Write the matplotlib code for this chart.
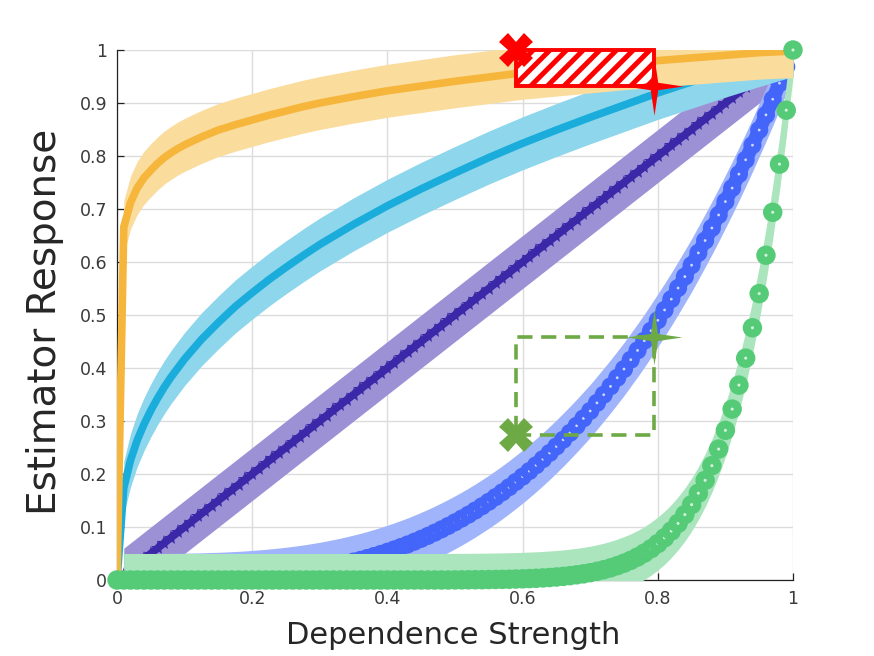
import matplotlib
matplotlib.use("Agg")
import matplotlib.pyplot as plt
import numpy as np
from matplotlib.path import Path
from matplotlib.patches import Rectangle

plt.rcParams['font.family'] = ['DejaVu Sans']
plt.rcParams['hatch.linewidth'] = 3.6
plt.rcParams['hatch.color'] = '#ff0000'

# ---------------- data ----------------
strength = [0.00, 0.01, 0.02, 0.03, 0.04, 0.05, 0.06, 0.07, 0.08, 0.09,
            0.10, 0.11, 0.12, 0.13, 0.14, 0.15, 0.16, 0.17, 0.18, 0.19,
            0.20, 0.21, 0.22, 0.23, 0.24, 0.25, 0.26, 0.27, 0.28, 0.29,
            0.30, 0.31, 0.32, 0.33, 0.34, 0.35, 0.36, 0.37, 0.38, 0.39,
            0.40, 0.41, 0.42, 0.43, 0.44, 0.45, 0.46, 0.47, 0.48, 0.49,
            0.50, 0.51, 0.52, 0.53, 0.54, 0.55, 0.56, 0.57, 0.58, 0.59,
            0.60, 0.61, 0.62, 0.63, 0.64, 0.65, 0.66, 0.67, 0.68, 0.69,
            0.70, 0.71, 0.72, 0.73, 0.74, 0.75, 0.76, 0.77, 0.78, 0.79,
            0.80, 0.81, 0.82, 0.83, 0.84, 0.85, 0.86, 0.87, 0.88, 0.89,
            0.90, 0.91, 0.92, 0.93, 0.94, 0.95, 0.96, 0.97, 0.98, 0.99,
            1.00]

# purple (linear estimator)
linear_resp = [0.00, 0.01, 0.02, 0.03, 0.04, 0.05, 0.06, 0.07, 0.08, 0.09,
               0.10, 0.11, 0.12, 0.13, 0.14, 0.15, 0.16, 0.17, 0.18, 0.19,
               0.20, 0.21, 0.22, 0.23, 0.24, 0.25, 0.26, 0.27, 0.28, 0.29,
               0.30, 0.31, 0.32, 0.33, 0.34, 0.35, 0.36, 0.37, 0.38, 0.39,
               0.40, 0.41, 0.42, 0.43, 0.44, 0.45, 0.46, 0.47, 0.48, 0.49,
               0.50, 0.51, 0.52, 0.53, 0.54, 0.55, 0.56, 0.57, 0.58, 0.59,
               0.60, 0.61, 0.62, 0.63, 0.64, 0.65, 0.66, 0.67, 0.68, 0.69,
               0.70, 0.71, 0.72, 0.73, 0.74, 0.75, 0.76, 0.77, 0.78, 0.79,
               0.80, 0.81, 0.82, 0.83, 0.84, 0.85, 0.86, 0.87, 0.88, 0.89,
               0.90, 0.91, 0.92, 0.93, 0.94, 0.95, 0.96, 0.97, 0.98, 0.99,
               1.00]

# blue (convex estimator)
convex_resp = [0.0, 0.0, 0.0, 0.0, 0.0, 0.0001, 0.0001, 0.0002, 0.0003, 0.0005,
               0.0006, 0.0009, 0.0011, 0.0015, 0.0019, 0.0023, 0.0028, 0.0035, 0.0041, 0.0049,
               0.0058, 0.0068, 0.0079, 0.0091, 0.0104, 0.0118, 0.0134, 0.0151, 0.0170, 0.0190,
               0.0212, 0.0236, 0.0261, 0.0288, 0.0317, 0.0348, 0.0380, 0.0415, 0.0452, 0.0491,
               0.0533, 0.0577, 0.0623, 0.0671, 0.0723, 0.0777, 0.0833, 0.0893, 0.0955, 0.1020,
               0.1088, 0.1159, 0.1233, 0.1311, 0.1392, 0.1476, 0.1564, 0.1655, 0.1750, 0.1850,
               0.1950, 0.2056, 0.2166, 0.2280, 0.2397, 0.2520, 0.2646, 0.2776, 0.2911, 0.3050,
               0.3190, 0.3342, 0.3496, 0.3653, 0.3816, 0.3980, 0.4156, 0.4332, 0.4515, 0.4704,
               0.4900, 0.5095, 0.5299, 0.5509, 0.5724, 0.5940, 0.6172, 0.6405, 0.6642, 0.6887,
               0.7140, 0.7395, 0.7658, 0.7928, 0.8204, 0.8490, 0.8776, 0.9071, 0.9374, 0.9683,
               1.0]

# green (very steep estimator)
steep_resp = [0.0, 0.0, 0.0, 0.0, 0.0, 0.0, 0.0, 0.0, 0.0, 0.0,
              0.0, 0.0, 0.0, 0.0, 0.0, 0.0, 0.0, 0.0, 0.0, 0.0,
              0.0, 0.0, 0.0, 0.0, 0.0, 0.0, 0.0, 0.0, 0.0, 0.0,
              0.0, 0.0, 0.0, 0.0, 0.0, 0.0, 0.0, 0.0, 0.0, 0.0,
              0.0, 0.0, 0.0, 0.0, 0.0, 0.0, 0.0, 0.0, 0.0, 0.0,
              0.0002, 0.0003, 0.0004, 0.0005, 0.0006, 0.0008, 0.0010, 0.0012, 0.0014, 0.0018,
              0.0022, 0.0027, 0.0032, 0.0039, 0.0047, 0.0057, 0.0068, 0.0082, 0.0098, 0.0116,
              0.0138, 0.0164, 0.0194, 0.0229, 0.0270, 0.0317, 0.0371, 0.0434, 0.0507, 0.0591,
              0.0687, 0.0797, 0.0924, 0.1069, 0.1234, 0.1422, 0.1637, 0.1880, 0.2157, 0.2470,
              0.2824, 0.3225, 0.3677, 0.4186, 0.4759, 0.5404, 0.6127, 0.6938, 0.7847, 0.8864,
              1.0]

strength_coarse = [0.00, 0.01, 0.02, 0.03, 0.04, 0.05, 0.06, 0.07, 0.08, 0.09, 0.10,
                   0.125, 0.15, 0.175, 0.20, 0.225, 0.25, 0.275, 0.30, 0.35, 0.40,
                   0.45, 0.50, 0.55, 0.60, 0.65, 0.70, 0.75, 0.80, 0.85, 0.90,
                   0.95, 1.00]
# light blue (concave estimator)
concave_resp = [0.0, 0.174, 0.226, 0.264, 0.294, 0.320, 0.343, 0.364, 0.383, 0.400, 0.417,
                0.454, 0.486, 0.516, 0.542, 0.567, 0.590, 0.612, 0.633, 0.671, 0.706,
                0.738, 0.768, 0.797, 0.824, 0.849, 0.873, 0.896, 0.919, 0.940, 0.961,
                0.981, 1.0]
# orange (saturating estimator)
saturating_resp = [0.0, 0.666, 0.712, 0.740, 0.759, 0.773, 0.786, 0.797, 0.806, 0.814, 0.821,
                   0.836, 0.849, 0.859, 0.868, 0.877, 0.885, 0.893, 0.900, 0.912, 0.923,
                   0.932, 0.941, 0.949, 0.957, 0.963, 0.969, 0.975, 0.980, 0.985, 0.990,
                   0.995, 0.998]

band_halfwidth = 0.05

# annotation anchor points
red_cross = (0.59, 1.0)
red_star = (0.795, 0.932)
green_cross = (0.59, 0.273)
green_star = (0.795, 0.458)

xticks = [0, 0.2, 0.4, 0.6, 0.8, 1]
xtick_labels = ['0', '0.2', '0.4', '0.6', '0.8', '1']
yticks = [0, 0.1, 0.2, 0.3, 0.4, 0.5, 0.6, 0.7, 0.8, 0.9, 1]
ytick_labels = ['0', '0.1', '0.2', '0.3', '0.4', '0.5', '0.6', '0.7', '0.8', '0.9', '1']

# ---------------- colours ----------------
C_ORANGE, C_ORANGE_B = '#F6B63C', '#FADC9D'
C_LBLUE, C_LBLUE_B = '#1AADDB', '#8DD6EC'
C_PURPLE, C_PURPLE_B = '#3B28A8', '#9D91D6'
C_BLUE, C_BLUE_B = '#4365F9', '#A0B4FB'
C_GREEN, C_GREEN_B = '#55CB78', '#AAE5BD'
C_RED = '#FF0000'
C_OLIVE = '#6DAA45'

# ---------------- figure ----------------
fig = plt.figure(figsize=(8.74, 6.56), dpi=100)
ax = fig.add_axes([117 / 874, 1 - 580 / 656, 676 / 874, 530 / 656])
ax.set_xlim(0, 1)
ax.set_ylim(0, 1)


def band(x, y, color, z):
    x = np.asarray(x)[1:]
    y = np.asarray(y)[1:]
    ax.fill_between(x, y - band_halfwidth, y + band_halfwidth, color=color,
                    linewidth=0, zorder=z)


def dotted_circles(x, y, color, dot_color, ms, dot_ms, z):
    # circle then centre dot for each point, in order, so that later circles
    # cover earlier dots where the points are packed closely
    x = np.asarray(x)
    y = np.asarray(y)
    xs = np.repeat(x, 2)
    ys = np.repeat(y, 2)
    sizes = np.tile([ms ** 2, dot_ms ** 2], len(x))
    cols = [color, dot_color] * len(x)
    ax.scatter(xs, ys, s=sizes, c=cols, marker='o', linewidths=0,
               zorder=z, clip_on=False)


# purple
band(strength, linear_resp, C_PURPLE_B, 2)
ax.plot(strength, linear_resp, color=C_PURPLE, lw=5.5, zorder=3)
ax.plot(strength, linear_resp, linestyle='none', marker='*', ms=11,
        color=C_PURPLE, mew=0, zorder=3)

# blue
band(strength, convex_resp, C_BLUE_B, 4)
ax.plot(strength, convex_resp, color=C_BLUE, lw=10, zorder=4.5,
        solid_joinstyle='round')
dotted_circles(strength, convex_resp, C_BLUE, '#d0daff', 13, 2.0, 5)

# light blue
band(strength_coarse, concave_resp, C_LBLUE_B, 6)
ax.plot(strength_coarse, concave_resp, color=C_LBLUE, lw=5.5, zorder=7,
        solid_joinstyle='round')

# green band
band(strength, steep_resp, C_GREEN_B, 8)

# orange
band(strength_coarse, saturating_resp, C_ORANGE_B, 9)
ax.plot(strength_coarse, saturating_resp, color=C_ORANGE, lw=5.5, zorder=10,
        solid_joinstyle='round')

# green markers
dotted_circles(strength, steep_resp, C_GREEN, '#d6f2df', 14, 2.2, 11)

# ---------------- annotations ----------------
# four-pointed sparkle marker
r_in = 0.18
verts = []
for k in range(4):
    a = np.deg2rad(90 * k)
    verts.append((np.cos(a), np.sin(a)))
    b = np.deg2rad(90 * k + 45)
    verts.append((r_in * np.cos(b), r_in * np.sin(b)))
verts.append(verts[0])
codes = [Path.MOVETO] + [Path.LINETO] * (len(verts) - 2) + [Path.CLOSEPOLY]
star_path = Path(verts, codes)

# red hatched rectangle
rect = Rectangle((red_cross[0], red_star[1]), red_star[0] - red_cross[0],
                 red_cross[1] - red_star[1], facecolor='white',
                 edgecolor=C_RED, hatch='//', linewidth=2.8, zorder=12,
                 clip_on=False)
ax.add_patch(rect)
ax.plot([red_cross[0]], [red_cross[1]], marker='X', ms=24, color=C_RED,
        mew=0, zorder=13, clip_on=False)
ax.plot([red_star[0]], [red_star[1]], marker=star_path, ms=42, color=C_RED,
        mew=0, zorder=13, clip_on=False)

# green dashed rectangle
grect = Rectangle((green_cross[0], green_cross[1]), green_star[0] - green_cross[0],
                  green_star[1] - green_cross[1], fill=False,
                  edgecolor=C_OLIVE, linewidth=2.6, linestyle=(0, (4.2, 2.4)),
                  zorder=12)
ax.add_patch(grect)
ax.plot([green_cross[0]], [green_cross[1]], marker='X', ms=24, color=C_OLIVE,
        mew=0, zorder=13, clip_on=False)
ax.plot([green_star[0]], [green_star[1]], marker=star_path, ms=40, color=C_OLIVE,
        mew=0, zorder=13, clip_on=False)

# ---------------- axes styling ----------------
ax.set_xticks(xticks)
ax.set_xticklabels(xtick_labels)
ax.set_yticks(yticks)
ax.set_yticklabels(ytick_labels)
ax.tick_params(direction='in', length=5, width=0.9, colors='#222222',
               labelcolor='#3a3a3a', labelsize=12.5, pad=7)
ax.grid(True, color='#dcdcdc', linewidth=1.0, zorder=0)
ax.set_axisbelow(True)
for side in ['top', 'right']:
    ax.spines[side].set_visible(False)
for side in ['left', 'bottom']:
    ax.spines[side].set_color('#222222')
    ax.spines[side].set_linewidth(0.9)

fig.text(453 / 874, 1 - 636 / 656, 'Dependence Strength', ha='center',
         va='center', fontsize=22, color='#262626')
fig.text(45 / 874, 1 - 322 / 656, 'Estimator Response', ha='center',
         va='center', rotation=90, fontsize=28, color='#262626')

fig.savefig('out.png', dpi=100)
